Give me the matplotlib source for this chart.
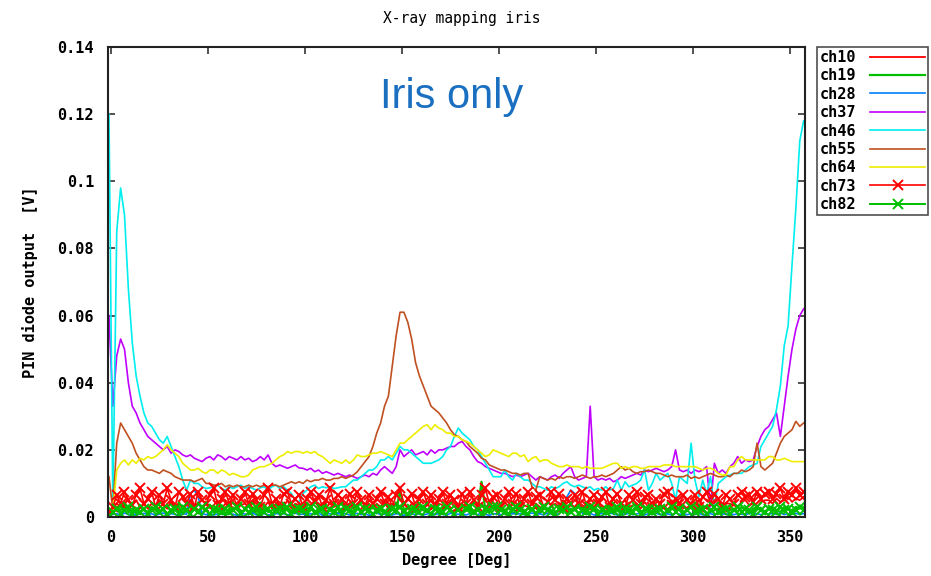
import numpy as np
import matplotlib
matplotlib.use("Agg")
import matplotlib.pyplot as plt

# x grid: degrees
deg = np.arange(-1, 358, 2)

# values in mV (converted to V when plotting)
ch46_mV = [120, 3, 85, 98, 90, 68, 52, 42, 36, 31,
           28, 27, 25, 23, 22, 24, 21, 18, 15, 11,
           8, 11, 10, 10, 9, 8.5, 8.7, 9, 9.5, 8.5,
           8, 9, 8.5, 9, 9.5, 8.5, 9, 8.5, 8, 8.7,
           9, 8, 9, 9.5, 8.5, 9, 8, 7, 5, 4.5,
           7, 8, 9, 9.5, 8.5, 9, 8.7, 9, 8.5, 8.7,
           9, 9, 10, 11, 11, 12, 13, 14, 14, 15,
           17, 17, 18, 17, 19, 21, 20, 20, 19, 18,
           17, 16, 16, 16, 16.5, 17, 18, 20, 21, 24,
           26.5, 25, 24, 23, 21, 20, 18, 16, 14, 12,
           12, 12, 14, 12, 11, 13, 12, 11, 11, 10,
           9, 9, 8.5, 8, 9, 8.5, 9, 10, 10.5, 9.5,
           9, 9.5, 9, 8.5, 9, 8, 8.5, 8, 9, 8,
           8.5, 11, 8, 10.5, 9, 9.5, 10, 11, 14, 8,
           10, 13, 11, 12, 13, 10, 5, 12, 11, 10,
           22, 11, 6, 11, 7, 12, 3, 10, 11, 12,
           12.5, 13, 13, 13, 14, 15, 15.5, 16, 21, 23,
           25, 27, 32, 39, 51, 57, 75, 92, 112, 118]

ch37_mV = [60, 33, 48, 53, 50, 40, 33, 31, 28, 26,
           24, 23, 22, 21, 20, 21, 19, 20, 19.5, 18.5,
           18, 18.5, 17.5, 17, 16.5, 17.5, 18, 17, 18.5, 18,
           17, 18, 17.5, 17, 18, 17, 17.5, 16.5, 17, 18,
           17, 18.5, 16, 15, 15.5, 15, 14.5, 15, 15.5, 14.6,
           14.5, 14, 14.5, 13.5, 14, 13, 13.5, 13, 12.5, 13,
           12.5, 12, 12.5, 12, 11.5, 12, 12.5, 12, 13, 12.5,
           14, 15, 14, 13, 15, 20, 18, 19, 20, 18.5,
           19, 19.5, 18.5, 20, 19, 20, 20, 20.5, 21, 21,
           22, 22.5, 21, 20, 18, 16.5, 16, 15, 14.5, 14,
           13.5, 13, 13, 12.5, 12, 12.5, 12, 12.5, 13, 12,
           11, 12, 11.5, 11, 12, 12.5, 11.5, 13, 14, 15,
           12, 11, 11.5, 12, 33, 12, 11, 11.5, 11, 11.5,
           10.5, 11, 12, 11.5, 12, 12.5, 13, 12.5, 14, 13.5,
           14, 14.5, 14, 13.5, 14, 15, 20, 14, 13.5, 14,
           13, 14, 13.5, 14, 15, 3, 16, 13, 14, 13,
           15, 16, 18, 16, 17, 16.5, 17, 21, 24, 26,
           27, 29, 31, 24, 33, 42, 50, 56, 60, 62]

ch55_mV = [12, 2, 22, 28, 26, 24, 22, 19, 17, 15,
           14, 14, 13.5, 13, 14, 13.5, 13, 12, 11.5, 11,
           11, 11, 10.5, 11, 11.5, 10, 10, 9.5, 9.5, 10,
           9, 9.5, 9, 9.5, 9, 9, 9.5, 9, 9.5, 9,
           9.5, 9, 9.5, 9.5, 9, 9.5, 10, 10.5, 10, 10.5,
           10, 11, 10.5, 11, 11, 11.5, 11, 11, 11.5, 11.5,
           12, 11.5, 12, 12.5, 13.5, 15, 16.5, 18, 21, 25,
           28, 33, 36, 45, 54, 61, 61, 58, 53, 46,
           42, 39, 36, 33, 32, 31, 29.5, 28, 26, 24.5,
           24, 23, 22.5, 21, 20, 19, 17.5, 17, 15.5, 15,
           14.5, 14, 14, 13.5, 13, 13, 12.5, 13, 13, 9,
           8, 12, 11.5, 11, 11.5, 11, 12, 11.5, 12, 12,
           11.5, 12, 12.5, 12, 11.5, 12, 12, 12.5, 12, 12.5,
           13, 14, 15, 14, 14.5, 13.5, 13, 13.5, 13.5, 14,
           13.5, 13, 13, 12.5, 12, 12.5, 12, 12, 12, 12.5,
           11.5, 12, 11.5, 12, 12.5, 13, 12.5, 12, 12, 12.5,
           12, 13, 13, 14, 13.5, 14, 15, 22, 15, 14,
           15, 16, 19, 22, 24, 25, 26, 28.5, 27, 28]

ch64_mV = [0, 2, 14, 16, 17, 15.5, 17, 16, 17.5, 17,
           18, 17.5, 18, 19, 20, 21.5, 20, 19, 18, 16,
           15, 14, 14, 14.5, 13.5, 13, 14, 14, 13, 14,
           13.5, 12.5, 13, 12.5, 12, 12, 12.5, 14, 14.5, 15,
           15, 15.5, 16, 17, 18, 18.5, 19.5, 19, 19.5, 19.5,
           19, 19.5, 19, 19.5, 18.5, 18, 17, 16, 17, 16.5,
           16, 17, 16, 17, 18.5, 18, 18, 18.5, 19, 19,
           19.5, 19, 18.5, 18, 20, 22, 22, 23, 24, 25,
           26, 27, 27.5, 26, 27.5, 26.5, 26, 25, 25, 24,
           24, 23, 22.5, 22, 21, 20, 19, 18, 18.5, 20,
           19.5, 19, 18.5, 18, 19, 19, 18, 18.5, 16.5, 17.5,
           18, 16.5, 17, 17, 16, 15.5, 15, 15, 15.5, 15,
           15, 15, 14.5, 15, 14.5, 14.5, 14.5, 14.5, 15, 15.5,
           16, 16, 14.5, 15, 14.5, 15, 15, 14.5, 14.5, 15,
           15, 15, 15, 15.5, 15.5, 15.5, 15, 15, 15, 15,
           15, 15, 14.5, 14, 14.5, 14.5, 14, 13, 12.5, 12.5,
           15, 15, 17, 18, 17, 17, 17, 17, 17, 17,
           18, 18, 17, 17, 17.5, 17, 16.5, 16.5, 16.5, 16.5]

ch10_mV = [1, 2.5, 4, 3, 4.5, 2.5, 3.5, 5, 3, 4,
           2.5, 4, 3, 5, 3.5, 2.5, 4.5, 3, 4, 2.5,
           3.5, 5, 3, 4, 2.5, 4.5, 3, 3.5, 5, 2.5,
           4, 3, 4.5, 2.5, 3.5, 4, 3, 5, 2.5, 4,
           3, 4.5, 2.5, 4, 3.5, 3, 5, 2.5, 4, 3.5,
           2.5, 4, 3.5, 5, 3, 4, 2.5, 4.5, 3, 3.5,
           4.5, 3, 4, 2.5, 3.5, 5, 3, 4, 2.5, 4,
           3, 5, 2.5, 4, 3.5, 3, 4.5, 2.5, 4, 3.5,
           4, 2.5, 3.5, 5, 3, 4, 3.5, 2.5, 4.5, 3,
           3.5, 4, 2.5, 3, 5, 3.5, 4, 2.5, 3, 4.5,
           2.5, 3.5, 4.5, 3, 4, 2.5, 5, 3.5, 3, 4,
           4, 3, 2.5, 4.5, 3.5, 4, 3, 5, 2.5, 3.5,
           3, 4.5, 3.5, 2.5, 4, 3, 4.5, 3.5, 2.5, 4,
           3.5, 2.5, 4, 5, 3, 3.5, 4, 2.5, 4.5, 3,
           4.5, 3, 3.5, 2.5, 4, 5, 3, 4, 3.5, 2.5,
           3, 4, 5, 3.5, 2.5, 4, 3, 4.5, 3.5, 4,
           4, 3.5, 3, 4.5, 5, 3.5, 4, 3, 4.5, 5,
           5, 4, 5.5, 4.5, 5, 6, 4.5, 5.5, 5, 6]

ch19_mV = [0.5, 1.5, 3, 2, 3.5, 1.5, 2.5, 1, 3, 2,
           1.5, 3, 2, 1, 2.5, 3.5, 1.5, 2, 3, 1,
           2.5, 1.5, 3, 2, 1, 2.5, 3.5, 1.5, 2, 3,
           1, 2.5, 2, 3, 1.5, 2, 3.5, 1, 2.5, 2,
           3, 1.5, 2, 2.5, 1, 3, 2, 1.5, 3.5, 2,
           1.5, 2.5, 3, 1, 2, 3, 1.5, 2.5, 2, 1,
           2.5, 3, 1.5, 2, 3.5, 1, 2.5, 2, 3, 1.5,
           2, 1, 3, 2.5, 1.5, 8, 2, 3, 1, 2.5,
           3, 2, 1.5, 2.5, 3, 1, 2, 3.5, 1.5, 2,
           2.5, 1.5, 3, 2, 1, 2.5, 10.5, 2, 1.5, 3,
           1.5, 2.5, 2, 3, 1, 2, 3, 1.5, 2.5, 2,
           3, 1, 2.5, 2, 3.5, 1.5, 2, 3, 1, 2.5,
           2, 3, 1.5, 2.5, 1, 3, 2, 1.5, 3, 2,
           1.5, 2, 3, 1, 2.5, 2, 3.5, 1.5, 2, 3,
           2.5, 1.5, 2, 3, 1, 2.5, 2, 3, 1.5, 2,
           3, 2, 1, 2.5, 3, 1.5, 2, 2.5, 1, 3,
           2, 2.5, 1.5, 3, 2, 1, 2.5, 3, 2, 1.5,
           2.5, 3, 2, 1.5, 3, 2.5, 2, 3, 2.5, 3]

ch28_mV = [0.3, 0.8, 1, 0.5, 1.2, 0.7, 1, 0.6, 0.9, 1.1,
           0.7, 1, 0.5, 0.9, 1.2, 0.6, 1, 0.8, 0.5, 1,
           0.8, 7, 8, 6, 1, 0.7, 1.1, 0.6, 0.9, 1,
           0.6, 1.1, 0.8, 0.5, 1, 0.9, 0.7, 1.2, 0.6, 0.9,
           1, 0.7, 0.5, 1.1, 0.8, 1, 0.6, 0.9, 1.2, 0.7,
           0.9, 0.6, 1, 0.8, 1.2, 0.5, 0.9, 1, 0.7, 1.1,
           0.8, 1, 0.6, 0.9, 1.1, 0.7, 1, 0.5, 0.9, 1.2,
           0.7, 0.9, 1.1, 0.6, 1, 0.8, 0.5, 1.1, 0.9, 0.7,
           1, 0.6, 0.9, 1.2, 0.7, 1, 0.8, 0.6, 1.1, 0.9,
           0.8, 1.1, 0.6, 1, 0.9, 0.7, 1.2, 0.8, 0.5, 1,
           0.9, 0.7, 1, 0.6, 1.1, 0.8, 1, 0.7, 0.9, 1.2,
           0.8, 1, 0.6, 1.2, 0.9, 0.7, 1, 3, 6, 8,
           7, 4, 1, 0.8, 1.1, 0.6, 0.9, 1, 0.7, 1.2,
           0.9, 0.6, 1, 0.8, 1.1, 0.7, 0.9, 1.2, 0.6, 1,
           0.8, 1.1, 0.7, 1, 0.9, 0.6, 1.2, 0.8, 1, 0.7,
           1, 0.8, 1.1, 0.6, 0.9, 1, 0.7, 1.2, 0.9, 0.8,
           1.1, 0.7, 1, 0.9, 0.6, 1.2, 0.8, 1, 0.7, 1.1,
           0.9, 1, 0.8, 1.2, 0.7, 1, 0.9, 1.1, 0.8, 1]

ch73_mV = [0, 3, 6.5, 4, 7.5, 5, 3.5, 6.5, 8.5, 4,
           5.5, 7.5, 3, 6.5, 4, 8.5, 5, 3, 7.5, 6,
           4, 7, 3, 7.5, 5, 4, 6.5, 8.5, 3.5, 5.5,
           7.5, 4, 6.5, 3, 5.5, 7.5, 4, 7, 5, 3,
           6.5, 8.5, 4, 5.5, 3, 7, 7.5, 4, 5.5, 6.5,
           3, 5.5, 7.5, 4.5, 6.5, 3, 5, 8.5, 4, 6.5,
           5.5, 3, 7, 4, 7.5, 5, 3.5, 6.5, 4, 5.5,
           7.5, 4, 6, 3, 6.5, 8.5, 4, 5.5, 7, 3,
           5.5, 7.5, 4, 6.5, 3.5, 5.5, 7.5, 4, 6.5, 5,
           3, 7, 4, 7.5, 5, 3, 6.5, 8.5, 4, 6,
           6.5, 3, 5.5, 7.5, 4, 7, 3, 5.5, 7.5, 4,
           6, 6.5, 3, 4.5, 7.5, 5, 7, 3, 5.5, 4,
           6.5, 4, 7.5, 3.5, 5.5, 6.5, 4, 6, 7.5, 3,
           5.5, 7, 4, 3, 6.5, 5, 7.5, 4, 6, 6.5,
           3, 5.5, 4, 7, 7.5, 3.5, 5.5, 4, 6.5, 5,
           4, 6.5, 3, 6, 7.5, 4, 7, 5.5, 3, 6.5,
           5.5, 4, 6.5, 7.5, 6, 6.5, 4.5, 7.5, 5.5, 7,
           7.5, 5.5, 7, 8.5, 5.5, 7.5, 6.5, 8.5, 6.5, 7.5]

ch82_mV = [0, 1.5, 2.5, 1, 2, 3, 1, 2, 1.5, 2.5,
           1, 2, 3, 1.5, 2.5, 1, 2, 2.5, 1, 3,
           2, 1, 2.5, 1.5, 3, 2, 1, 2.5, 2, 1.5,
           2.5, 1.5, 2, 3, 1, 2.5, 1.5, 2, 3, 1,
           1.5, 2.5, 1, 2, 2.5, 1.5, 3, 1, 2, 2.5,
           2, 1, 3, 1.5, 2, 2.5, 1, 2, 1.5, 3,
           1, 2.5, 2, 1, 3, 1.5, 2.5, 2, 1, 2,
           2.5, 1.5, 1, 2.5, 2, 3, 1.5, 1, 2.5, 2,
           1.5, 3, 2, 1, 2.5, 2, 1.5, 3, 2, 1,
           2, 1, 2.5, 3, 1.5, 2, 1, 2.5, 2, 3,
           3, 2, 1.5, 1, 2.5, 3, 2, 1.5, 1, 2.5,
           1, 2.5, 3, 2, 1.5, 1, 2.5, 2, 3, 1.5,
           2.5, 1, 2, 1.5, 3, 2.5, 1, 2, 1.5, 2,
           2, 3, 1, 2.5, 2, 1.5, 3, 1, 2.5, 2,
           1.5, 2, 2.5, 1, 2, 3, 1.5, 2.5, 1, 2,
           3, 1.5, 2, 2.5, 1, 2, 3, 1.5, 2, 2.5,
           1, 2, 3, 1.5, 2.5, 2, 1, 3, 2, 1.5,
           2.5, 2, 1.5, 3, 2, 2.5, 1.5, 2, 3, 2]

labels = ["ch10", "ch19", "ch28", "ch37", "ch46", "ch55", "ch64", "ch73", "ch82"]
series = [ch10_mV, ch19_mV, ch28_mV, ch37_mV, ch46_mV, ch55_mV, ch64_mV, ch73_mV, ch82_mV]
colors = ["#ff0000", "#00c000", "#0080ff", "#c000ff", "#00eeee", "#c05020", "#eeee00", "#ff0000", "#00c000"]
markers = [None, None, None, None, None, None, None, "x", "x"]
widths = [1.3, 1.6, 1.2, 1.2, 1.2, 1.2, 1.2, 1.2, 1.4]

xticks = [0, 50, 100, 150, 200, 250, 300, 350]
yticks = [0, 0.02, 0.04, 0.06, 0.08, 0.1, 0.12, 0.14]
ytick_labels = ["0", "0.02", "0.04", "0.06", "0.08", "0.1", "0.12", "0.14"]

mono = "DejaVu Sans Mono"

fig = plt.figure(figsize=(9.31, 5.76), dpi=100)
ax = fig.add_axes([108 / 931, 1 - 517 / 576, (805 - 108) / 931, (517 - 47) / 576])

for lab, vals, col, mk, lw in zip(labels, series, colors, markers, widths):
    y = np.array(vals, dtype=float) / 1000.0
    if mk:
        ax.plot(deg, y, color=col, lw=lw, marker=mk, markersize=7.5, mew=1.4, label=lab)
    else:
        ax.plot(deg, y, color=col, lw=lw, label=lab)

ax.set_xlim(-1.5, 357.7)
ax.set_ylim(0, 0.14)
ax.set_xticks(xticks)
ax.set_xticklabels([str(t) for t in xticks], fontfamily=mono, fontweight="bold", fontsize=11)
ax.set_yticks(yticks)
ax.set_yticklabels(ytick_labels, fontfamily=mono, fontweight="bold", fontsize=11)
ax.tick_params(direction="in", length=5, width=1.2, top=True, right=True, color="#333333")
ax.tick_params(axis="x", pad=9)
ax.tick_params(axis="y", pad=10)
for s in ax.spines.values():
    s.set_linewidth(1.5)
    s.set_color("#222222")

ax.set_xlabel("Degree [Deg]", fontfamily=mono, fontweight="bold", fontsize=11, labelpad=6)
ax.set_ylabel("PIN diode output  [V]", fontfamily=mono, fontweight="bold", fontsize=11, labelpad=14)
fig.text(462 / 931, 1 - 18 / 576, "X-ray mapping iris", ha="center", va="center",
         fontfamily=mono, fontsize=10.5)
fig.text(452 / 931, 1 - 97 / 576, "Iris only", ha="center", va="center",
         fontfamily="Liberation Sans", fontsize=30, color="#1a6fc0")

leg = ax.legend(loc="upper left", bbox_to_anchor=(817 / 931, 1 - 47 / 576),
                bbox_transform=fig.transFigure, markerfirst=False, frameon=True,
                fancybox=False, edgecolor="#222222", borderpad=0.2, labelspacing=0.22,
                handlelength=3.6, handletextpad=0.9, borderaxespad=0,
                prop={"family": mono, "weight": "bold", "size": 11})
leg.get_frame().set_linewidth(1.2)

fig.savefig("out.png", dpi=100)
